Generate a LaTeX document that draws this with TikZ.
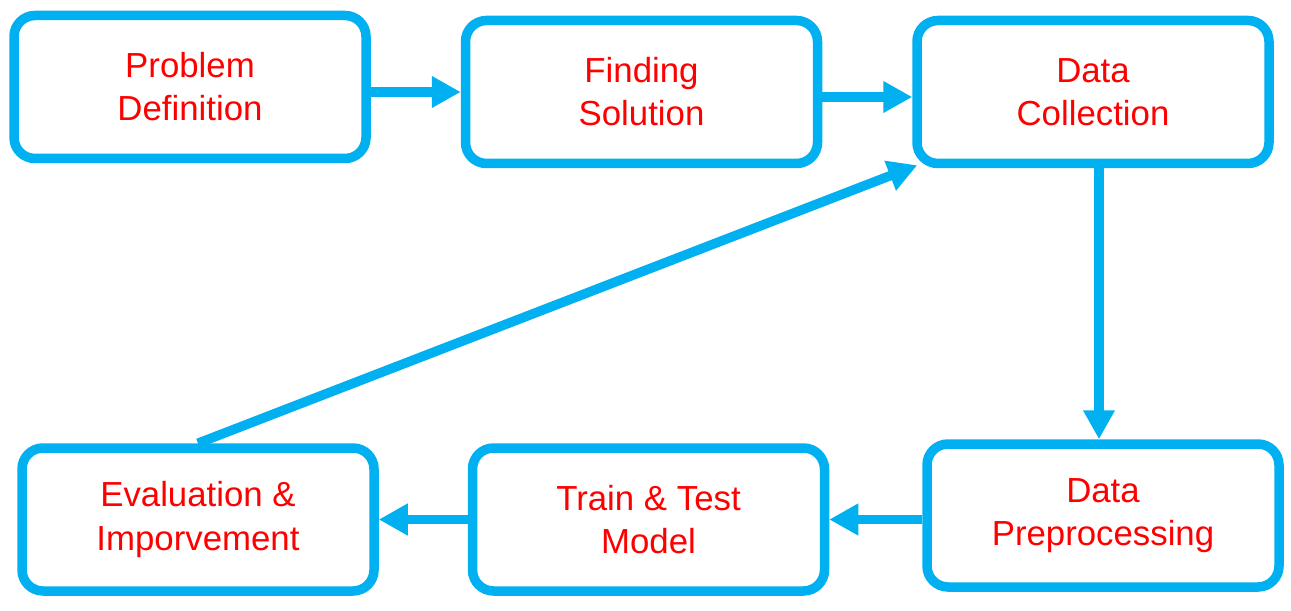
\documentclass[tikz,border=0pt]{standalone}
\usepackage{fontspec}
\setmainfont{Liberation Sans}
\usepackage{tikz}
\usetikzlibrary{arrows.meta, positioning}
\definecolor{boxblue}{HTML}{00B0F0}
\definecolor{textred}{HTML}{FF0000}

\begin{document}
\begin{tikzpicture}[stage/.style={rectangle, rounded corners=0.42cm, draw=boxblue, line width=0.19cm, fill=white, minimum width=7.04cm, minimum height=2.86cm, align=center, text=textred, font=\fontsize{19.8}{24.5}\selectfont},
    flow/.style={draw=boxblue, line width=0.19cm, -{Triangle[length=0.58cm, width=0.6cm]}}]
        \useasboundingbox (0,0) rectangle (25.82,12.2);
        \node[stage] (pd) at (3.8,10.46) {Problem\\Definition};
        \node[stage] (fs) [right = 1.8cm of pd, yshift=-0.1cm] {Finding\\Solution};
        \node[stage] (dc) [right = 1.8cm of fs] {Data\\Collection};
        \node[stage] (dp) [below = 5.42cm of dc, xshift=0.2cm] {Data\\Preprocessing};
        \node[stage] (tt) [left = 1.86cm of dp, yshift=-0.08cm] {Train \& Test\\Model};
        \node[stage] (ev) [left = 1.78cm of tt] {Evaluation \&\\Imporvement};
        
        \draw[flow] (pd.east |- fs) -- (fs.west);
        \draw[flow] ([yshift=-0.1cm]fs.east) -- ([yshift=-0.1cm]dc.west);
        \draw[flow] ([xshift=0.12cm]dc.south) -- ([xshift=0.12cm]dc.south |- dp.north);
        \draw[flow] (dp.west |- tt) -- (tt.east);
        \draw[flow] (tt.west) -- (ev.east |- tt);
        
        \draw[flow] (ev.north) -- ([xshift=0.1cm, yshift=0.06cm]dc.south west);
    \end{tikzpicture}
\end{document}
